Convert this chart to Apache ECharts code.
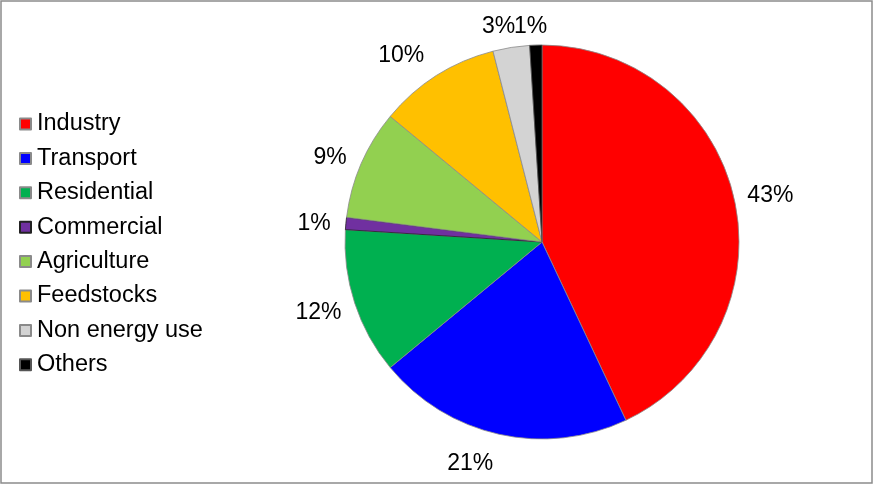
<!DOCTYPE html>
<html>
<head>
<meta charset="utf-8">
<script src="https://cdn.jsdelivr.net/npm/echarts@6/dist/echarts.min.js"></script>
<style>
html,body{margin:0;padding:0;background:#fff;}
#c{width:874px;height:485px;}
</style>
</head>
<body>
<div id="c"></div>
<script>
var categories = ['Industry','Transport','Residential','Commercial','Agriculture','Feedstocks','Non energy use','Others'];
var values = [43, 21, 12, 1, 9, 10, 3, 1];
var colors = ['#FF0000','#0000FF','#00B050','#7030A0','#92D050','#FFC000','#D3D3D3','#000000'];
var borderColors = ['#8a8a8a','#8a8a8a','#8a8a8a','#222222','#8a8a8a','#8a8a8a','#8a8a8a','#555555'];
var labelOffsets = [[1,4],[-21,-6],[-2,-1],[4,4],[2,8],[-16,10],[-7,15],[-4,18]];

var chart = echarts.init(document.getElementById('c'), null, {renderer:'canvas'});
var mainData = categories.map(function(n,i){
  return {name:n, value:values[i], itemStyle:{color:colors[i], borderColor:borderColors[i]}};
});
var labelData = categories.map(function(n,i){
  return {name:n, value:values[i], label:{offset:labelOffsets[i]}};
});
var font = 'Arial, "Liberation Sans", sans-serif';
chart.setOption({
  animation:false,
  backgroundColor:'#fff',
  graphic:[{type:'rect', shape:{x:1,y:1,width:871,height:482}, style:{fill:'none', stroke:'#8c8c8c', lineWidth:1.5}, silent:true, z:-1}],
  legend:{
    orient:'vertical', left:19, top:112, padding:0,
    data:categories,
    icon:'rect', itemWidth:11, itemHeight:11, itemGap:10.4,
    selectedMode:false,
    textStyle:{fontFamily:font, fontSize:23.5, color:'#000', lineHeight:24, padding:[0,0,0,1]}
  },
  series:[
    {
      type:'pie', center:[542,242], radius:[0,197], startAngle:90, clockwise:true,
      data:mainData, label:{show:false}, labelLine:{show:false},
      itemStyle:{borderWidth:0.8}, emphasis:{disabled:true}, silent:true
    },
    {
      type:'pie', center:[542,242], radius:[215,245], startAngle:90, clockwise:true,
      avoidLabelOverlap:false, minShowLabelAngle:0,
      labelLayout:{hideOverlap:false},
      data:labelData, silent:true, emphasis:{disabled:true}, legendHoverLink:false,
      itemStyle:{color:'rgba(0,0,0,0)', borderWidth:0},
      labelLine:{show:false},
      label:{show:true, position:'inside', formatter:function(p){return p.value+'%';},
        fontFamily:font, fontSize:23, color:'#000'}
    }
  ]
});
</script>
</body>
</html>
